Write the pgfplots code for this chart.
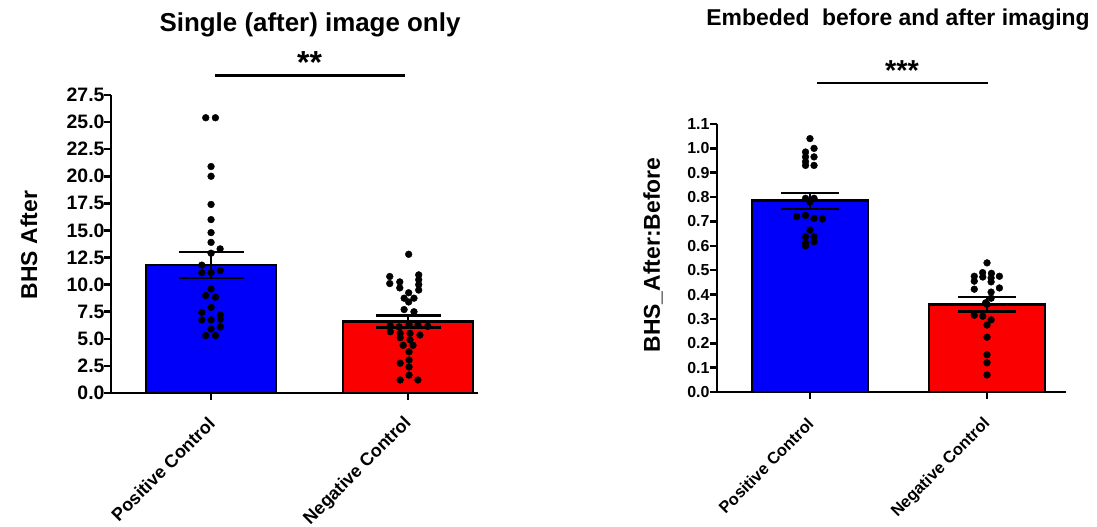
\documentclass[border=0pt]{standalone}
\usepackage{pgfplots}
\pgfplotsset{compat=1.18}
\usepackage{fontspec}
\setmainfont{Liberation Sans}

\definecolor{barblue}{RGB}{0,0,250}
\definecolor{barred}{RGB}{250,0,0}

\pgfplotsset{
  prismaxis/.style={
    scale only axis,
    anchor=south west,
    clip=false,
    axis lines=left,
    axis line style={-, line width=2.8bp, black},
    tick style={line width=2.6bp, black},
    major tick length=7bp,
    tick align=outside,
    ymin=0,
    xtick={0,1},
    xticklabels={Positive Control, Negative Control},
    /pgf/number format/fixed,
    /pgf/number format/fixed zerofill,
    /pgf/number format/precision=1,
    /pgf/number format/assume math mode=true,
  },
  dots/.style={only marks, mark=*, mark size=3.4bp, black, mark options={draw=black, fill=black}},
  meanbar/.style={ybar, bar shift=0pt, draw=black, line width=2.6bp,
    /pgfplots/error bars/y dir=both,
    /pgfplots/error bars/y explicit,
    /pgfplots/error bars/error bar style={line width=2.2bp, black},
    /pgfplots/error bars/error mark options={rotate=90, line width=2.2bp, black, mark size=#1}},
}

\begin{document}
\begin{tikzpicture}
\useasboundingbox (0,0) rectangle (1097bp,527bp);

% ---------------- Single (after) image only ----------------
\begin{axis}[prismaxis,
  at={(111bp,134bp)},
  width=367bp, height=298bp,
  xmin=-0.508, xmax=1.355, ymax=27.5,
  ytick={0,2.5,5,7.5,10,12.5,15,17.5,20,22.5,25,27.5},
  yticklabel style={font=\fontsize{19.5}{19.5}\selectfont\bfseries, xshift=4bp},
  xticklabel style={font=\fontsize{18}{18}\selectfont\bfseries, xshift=3bp, yshift=-18bp, rotate=45, anchor=east},
]
\addplot[meanbar=32.5bp, fill=barblue, bar width=130bp]
  coordinates {(0,11.8) +- (0,1.2)};
\addplot[meanbar=32.5bp, fill=barred, bar width=130bp]
  coordinates {(1,6.6) +- (0,0.55)};
% individual values, positive control
\addplot[dots] coordinates {
  (-0.027,25.4) (0.022,25.4) (0,20.9) (0,20.0) (0,17.4) (0,16.0) (0,14.8)
  (0,13.9) (0,12.9) (0.046,13.3) (-0.047,11.8) (-0.047,11.1) (0,11.1)
  (0.046,11.3) (0,9.6) (-0.027,9.0) (0.022,8.85) (0,7.9) (-0.047,7.45)
  (0.047,7.2) (-0.047,6.75) (0,6.75) (0.047,6.8) (0.047,6.1) (0,5.9)
  (-0.027,5.3) (0.022,5.3)
};
% individual values, negative control
\addplot[dots] coordinates {
  (1.003,12.8) (0.907,10.75) (0.907,10.1) (0.958,10.25) (0.958,9.7)
  (1.054,10.9) (1.054,10.45) (1.054,10.0) (1.054,9.5)
  (1.003,9.25) (0.98,8.75) (1.03,8.75) (1.003,8.4)
  (0.98,7.7) (1.03,7.5)
  (0.91,6.2) (0.955,6.1) (1.005,6.3) (1.05,6.25) (1.1,6.15)
  (0.91,5.65) (0.96,5.5) (1.01,5.5) (1.06,5.35)
  (0.96,5.1) (1.01,4.9) (0.975,4.4) (1.025,4.4)
  (1.005,3.8) (1.005,3.05) (0.96,2.75) (1.005,2.4) (1.005,1.65)
  (0.96,1.2) (1.05,1.2)
};
% significance bracket
\draw[line width=2.2bp] (axis cs:0.02,29.3) -- (axis cs:0.985,29.3);
\node[anchor=base, font=\fontsize{32}{32}\selectfont\bfseries] at (axis cs:0.5,29.5) {**};
\end{axis}

% ---------------- Embeded before and after imaging ----------------
\begin{axis}[prismaxis,
  at={(717bp,135bp)},
  width=349bp, height=268bp,
  xmin=-0.525, xmax=1.446, ymax=1.1,
  ytick={0,0.1,0.2,0.3,0.4,0.5,0.6,0.7,0.8,0.9,1.0,1.1},
  yticklabel style={font=\fontsize{16}{16}\selectfont\bfseries, xshift=3bp},
  xticklabel style={font=\fontsize{16.5}{16.5}\selectfont\bfseries, xshift=3bp, yshift=-20bp, rotate=45, anchor=east},
]
\addplot[meanbar=29bp, fill=barblue, bar width=116bp]
  coordinates {(0,0.785) +- (0,0.033)};
\addplot[meanbar=29bp, fill=barred, bar width=116bp]
  coordinates {(1,0.36) +- (0,0.03)};
% individual values, positive control
\addplot[dots] coordinates {
  (0,1.04) (-0.025,0.985) (-0.025,0.965) (-0.025,0.945) (-0.025,0.93)
  (0.023,1.0) (0.023,0.965) (0.023,0.93)
  (-0.025,0.795) (0.023,0.795) (0,0.78)
  (-0.075,0.72) (-0.025,0.725) (0.023,0.713) (0.07,0.71)
  (0,0.665) (-0.025,0.637) (0.023,0.637) (-0.025,0.612) (0.023,0.617) (-0.025,0.6)
};
% individual values, negative control
\addplot[dots] coordinates {
  (1,0.53) (0.975,0.49) (1.025,0.487)
  (0.928,0.475) (0.976,0.472) (1.023,0.468) (1.07,0.475)
  (0.928,0.455) (1.023,0.452)
  (0.928,0.422) (1.07,0.427) (1.023,0.41)
  (1.023,0.385) (0.992,0.366) (1,0.36)
  (0.928,0.315) (0.976,0.311) (1.023,0.296) (1,0.275)
  (1,0.225) (1,0.153) (1,0.12) (1,0.07)
};
% significance bracket
\draw[line width=2.2bp] (axis cs:0.04,1.268) -- (axis cs:1.006,1.268);
\node[anchor=base, font=\fontsize{29}{29}\selectfont\bfseries] at (axis cs:0.52,1.277) {***};
\end{axis}

% titles and y-axis labels
\node[anchor=base, font=\fontsize{26}{26}\selectfont\bfseries] at (310bp,495bp) {Single (after) image only};
\node[anchor=base, font=\fontsize{23}{23}\selectfont\bfseries] at (898bp,501bp) {Embeded\ \ before and after imaging};
\node[rotate=90, font=\fontsize{23}{23}\selectfont\bfseries] at (29bp,282bp) {BHS After};
\node[rotate=90, font=\fontsize{23}{23}\selectfont\bfseries] at (653bp,272bp) {BHS\_After:Before};
\end{tikzpicture}
\end{document}
